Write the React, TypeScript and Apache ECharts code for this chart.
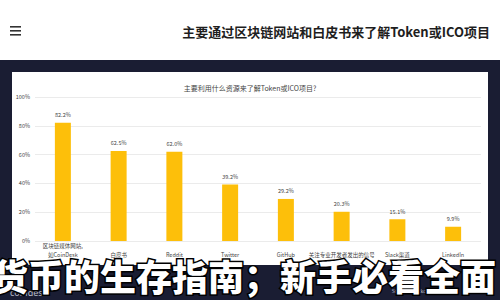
import React, { useEffect, useRef } from "react";
import * as echarts from "echarts";

const categories = [
  "区块链媒体网站,\n如CoinDesk",
  "白皮书",
  "Reddit",
  "Twitter",
  "GitHub",
  "关注专业开发者发出的信号",
  "Slack渠道",
  "LinkedIn",
];
const values = [82.2, 62.5, 62.0, 39.2, 29.2, 20.3, 15.1, 9.9];
const yTicks = [0, 20, 40, 60, 80, 100];
const pageTitle = "主要通过区块链网站和白皮书来了解Token或ICO项目";
const chartTitle = "主要利用什么资源来了解Token或ICO项目?";
const bannerText = "货币的生存指南；新手必看全面";
const footerLeft = "coindesk";
const footerRight = "State of Blockchain - Q4 2017   |   1/47";

const NAVY = "#1a1d33";
const BAR = "#fdbf0a";

export default function App() {
  const ref = useRef<HTMLDivElement>(null);
  useEffect(() => {
    document.body.style.margin = "0";
    const chart = echarts.init(ref.current!, null, { renderer: "svg" });
    chart.setOption({
      animation: false,
      backgroundColor: NAVY,
      textStyle: { fontFamily: "Noto Sans CJK SC" },
      graphic: [
        { type: "rect", z: -10, shape: { x: 0, y: 0, width: 500, height: 60 }, style: { fill: "#ffffff" } },
        { type: "rect", z: -10, shape: { x: 12, y: 72, width: 476, height: 193 }, style: { fill: "#ffffff" } },
        { type: "rect", z: 1, shape: { x: 10, y: 26, width: 11, height: 1.6 }, style: { fill: "#333" } },
        { type: "rect", z: 1, shape: { x: 10, y: 30, width: 11, height: 1.6 }, style: { fill: "#333" } },
        { type: "rect", z: 1, shape: { x: 10, y: 34, width: 11, height: 1.6 }, style: { fill: "#333" } },
        {
          type: "text", z: 1, x: 490, y: 31,
          style: { text: pageTitle, fill: "#1e1e1e", font: "bold 13px 'Noto Sans CJK SC'", align: "right", verticalAlign: "middle" },
        },
        {
          type: "text", z: 1, x: 250, y: 88,
          style: { text: chartTitle, fill: "#444", font: "7px 'Noto Sans CJK SC'", align: "center", verticalAlign: "middle" },
        },
        {
          type: "text", z: 50, x: 10, y: 292,
          style: { text: footerLeft, fill: "#b8bcc8", font: "9px 'Noto Sans'", align: "left", verticalAlign: "middle" },
        },
        {
          type: "text", z: 50, x: 478, y: 291,
          style: { text: footerRight, fill: "#b8bcc8", font: "5.5px 'Liberation Serif'", align: "right", verticalAlign: "middle" },
        },
        {
          type: "text", z: 100, x: -8, y: 275,
          style: {
            text: bannerText, fill: "#ffffff", stroke: "#000000", lineWidth: 3,
            font: "900 36px 'Noto Sans CJK SC'", align: "left", verticalAlign: "middle",
          },
        },
      ],
      grid: { left: 35, right: 19, top: 97, bottom: 59 },
      xAxis: {
        type: "category",
        data: categories,
        axisLine: { show: false },
        axisTick: { show: false },
        axisLabel: {
          interval: 0,
          fontSize: 5.5,
          color: "#444",
          lineHeight: 9,
          margin: 18,
          verticalAlign: "bottom",
        },
      },
      yAxis: {
        type: "value",
        min: yTicks[0],
        max: yTicks[yTicks.length - 1],
        interval: 20,
        axisLine: { show: false },
        axisTick: { show: false },
        splitLine: { lineStyle: { color: "#e6e6e6", width: 0.8 } },
        axisLabel: { fontSize: 5.5, color: "#444", margin: 5, formatter: "{value}%" },
      },
      series: [
        {
          type: "bar",
          data: values,
          barWidth: 16,
          itemStyle: { color: BAR },
          label: {
            show: true,
            position: "top",
            distance: 5,
            fontSize: 5.5,
            color: "#444",
            formatter: (p: any) => p.value.toFixed(1) + "%",
          },
        },
      ],
    });
    return () => chart.dispose();
  }, []);
  return <div ref={ref} style={{ width: 500, height: 300 }} />;
}
